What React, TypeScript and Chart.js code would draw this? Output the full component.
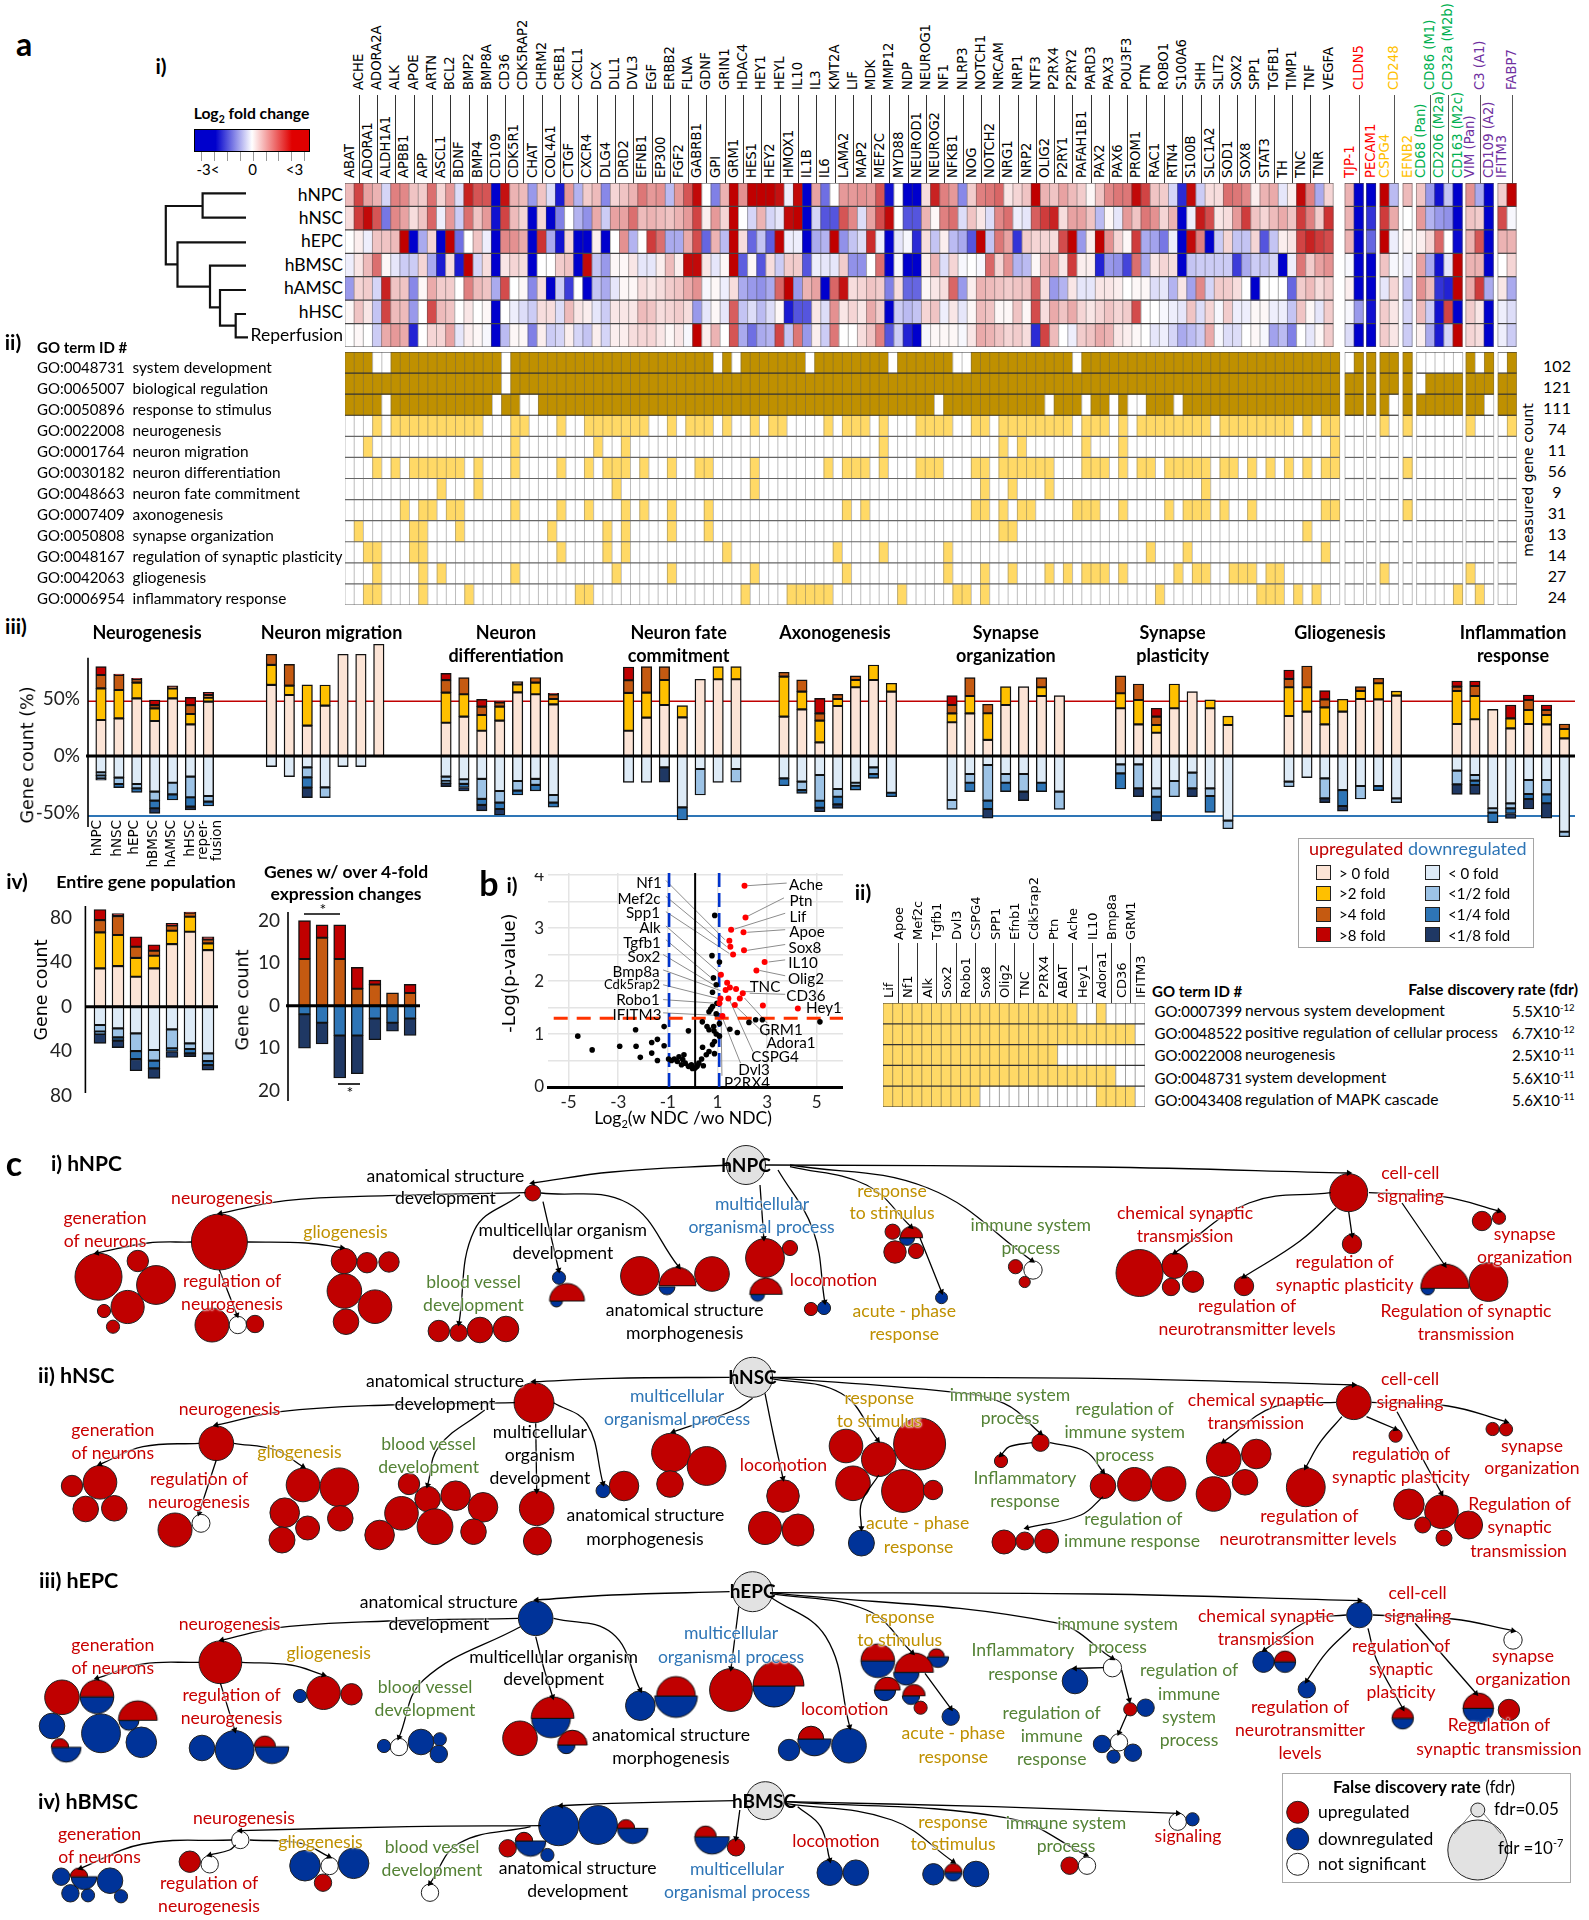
import React, { useEffect, useRef } from 'react';
import { Chart, registerables, BubbleController, LineController, ScatterController } from 'chart.js';
Chart.register(...registerables);
/* the scales of these charts are laid out exactly, so no room is reserved for overflowing marks */
BubbleController.prototype.getMaxOverflow = () => 0;
LineController.prototype.getMaxOverflow = () => 0;
ScatterController.prototype.getMaxOverflow = () => 0;

/* ---------- heat map ---------- */
const GENES_MAIN = ['ABAT','ACHE','ADORA1','ADORA2A','ALDH1A1','ALK','APBB1','APOE','APP','ARTN','ASCL1','BCL2','BDNF','BMP2','BMP4','BMP8A','CD109','CD36','CDK5R1','CDK5RAP2','CHAT','CHRM2','COL4A1','CREB1','CTGF','CXCL1','CXCR4','DCX','DLG4','DLL1','DRD2','DVL3','EFNB1','EGF','EP300','ERBB2','FGF2','FLNA','GABRB1','GDNF','GPI','GRIN1','GRM1','HDAC4','HES1','HEY1','HEY2','HEYL','HMOX1','IL10','IL1B','IL3','IL6','KMT2A','LAMA2','LIF','MAP2','MDK','MEF2C','MMP12','MYD88','NDP','NEUROD1','NEUROG1','NEUROG2','NF1','NFKB1','NLRP3','NOG','NOTCH1','NOTCH2','NRCAM','NRG1','NRP1','NRP2','NTF3','OLIG2','P2RX4','P2RY1','P2RY2','PAFAH1B1','PARD3','PAX2','PAX3','PAX6','POU3F3','PROM1','PTN','RAC1','ROBO1','RTN4','S100A6','S100B','SHH','SLC1A2','SLIT2','SOD1','SOX2','SOX8','SPP1','STAT3','TGFB1','TH','TIMP1','TNC','TNF','TNR','VEGFA'];
const GENES_EXTRA = [['TJP-1','r',0],['CLDN5','r',1],['PECAM1','r',0],['CSPG4','y',0],['CD248','y',1],['EFNB2','y',0],['CD68 (Pan)','g',0],['CD86 (M1)','g',1],['CD206 (M2a)','g',0],['CD32a (M2b)','g',1],['CD163 (M2c)','g',0],['VIM (Pan)','p',0],['C3 (A1)','p',1],['CD109 (A2)','p',0],['IFITM3','p',0],['FABP7','p',1]];
const CELL_TYPES = ['hNPC','hNSC','hEPC','hBMSC','hAMSC','hHSC','Reperfusion'];
const HEAT_hNPC = [.8,2.2,1.1,.9,-.5,1.5,1.4,.7,.6,1.7,.5,1.2,-.4,2.6,2,2,-3,2.8,.9,.8,-1.2,.7,-.4,-2.7,1.2,-.9,.6,.8,-1.4,.5,.7,.9,1.6,1.2,1.3,-.8,1.2,2,2.9,0,-1.5,.9,3,1.3,3,3,3,2.8,-.2,2.9,-3,1.1,-1.7,0,1.2,1.2,1.3,1.2,2,-2.8,0,-3,-3,.4,2.6,1.5,1.2,-1.4,.6,1.5,1.6,1.8,.3,.5,.7,3,.9,.7,1.1,.8,.6,.1,.7,1.4,1.6,1.6,2.9,2.2,.7,.6,-.5,-2.5,2.9,-.6,.4,.4,1.7,1.6,1.4,.2,.9,1,-.3,.2,2.9,1.5,-1,.5, .9,-3,-3,3,-.8,.8,.7,-1.2,-2.8,-.7,-3,1.3,-1,-3,.6,3];
const HEAT_hNSC = [.4,2.3,2.9,2,-1.6,1.4,1.1,.4,.7,1.8,-.2,1.2,-.6,1.7,.7,1.2,-2.8,2.2,.8,.5,-3,.5,-3,-1.5,0,-.9,-1.3,1,-.6,1.1,1.1,1.7,.8,.9,.8,.7,.9,1.2,2.2,.2,1.2,.5,3,0,-.5,.9,-.5,-.3,2.9,3,-3,-.5,-2,-2,2,1.4,-.4,1.1,2.1,2.9,0,-2,-2,.9,.1,1.5,1.7,-.4,.7,.3,-.4,1.4,1.7,-.2,-.3,1.9,2.3,2.6,.4,1.1,1.1,.7,-.8,.1,-.3,1.2,.7,1.6,1.3,.5,.9,-3,-.2,2.7,2.1,.3,.4,1.2,2.3,.7,.5,.8,1,.7,2.3,1.5,.6,2.4, .9,-3,-2.4,2.3,1,0,1.2,-.9,-1.2,-1.3,-3,.7,.6,-3,2.1,-.1];
const HEAT_hEPC = [0,.2,-.2,.7,.7,.8,3,-3,-1,.5,-3,3,-1.7,0,.7,-.2,-3,1.4,1.3,1,-3,2.4,-1,-2.8,.5,-3,-3,.2,-3,0,1.3,-.9,0,2.3,1.7,-1,-1,1,2.1,-1.8,.9,-.8,3,.4,-1.8,-.7,-1.9,3,-.2,-.2,-3,-1,-.9,3,-1.3,-.7,-.4,2.5,-.2,-3,-.3,-.1,-2.5,.4,-.7,.2,-.8,-1,-2,3,-.7,1.6,1.1,-2.4,.6,.5,.5,.4,2.1,3,-1.2,.2,3,1.3,.5,.1,2.3,-1,-1.1,-1.6,-.2,-3,2.9,1.5,-3,-.6,.5,-.7,-.7,.5,-2,-.7,.2,.3,2.2,2.6,2.3,2.1, .9,-3,-1.8,3,-.2,.1,.2,.5,1.8,0,-2.9,.9,2,-3,.9,.9];
const HEAT_hBMSC = [-.2,.3,.8,1.7,.1,-.3,-.6,-.6,.5,-1,-2.7,.4,-2.7,3,-.5,.4,-3,.3,.5,.4,-3,0,0,.6,.7,-3,2.9,-.7,-1.2,.1,.1,.3,-.3,-.3,.2,.8,.2,2.9,2.9,.3,-.3,.1,3,-1.9,.1,-2,.4,-.6,.6,.6,-2,-.2,-.3,-.3,.6,-1.3,-1.3,0,1.7,-3,-.1,-3,-3,.2,.9,-.4,.5,-.1,0,-.1,1.8,.5,1.3,-.9,-.8,.1,.8,1,.3,2.3,.2,.2,-2.6,-1.2,-1.3,-2.2,1.7,-1,.3,.5,.4,-3,-.7,-.6,-.6,-.6,-.6,-2.3,-1,-.6,-.7,-.5,-3,-.2,1.6,.6,1.1,1.3, -.1,-3,-3,.7,-.1,-.2,1.1,-1,-2.8,-.3,3,.9,.9,-3,0,.5];
const HEAT_hAMSC = [-1.2,.5,.6,-.5,2.6,.7,.7,-1.4,.1,1,.6,.6,0,1.5,.8,.7,-1,2.1,0,.1,-1.4,.4,-3,-.6,-2.3,0,-3,-.7,-1,-.3,.1,.1,.4,.3,.4,.6,.7,1,1.3,-.1,.1,-.2,.4,-1,-1.2,-1.3,-1,1.8,3,-1.2,.9,1.1,-3,1.8,2.8,.4,.5,.7,.6,-1.5,.4,-1.8,-1.8,.1,.3,.4,1.8,-1.2,.2,.9,.8,.7,.6,.7,.7,1.9,.4,-1.2,-.9,.3,-.3,-.3,.3,.3,.2,0,.1,.1,-.4,-.3,-.9,.3,-1.1,1.4,-.5,.6,.6,.4,0,-3,0,0,0,-1.8,.6,.8,.4,.6, .2,-3,-3,-.3,.5,-.7,1.3,.8,-2.4,-2.6,3,1,2.3,-1,.3,-1];
const HEAT_hHSC = [.1,.7,.3,-.7,2.2,.8,.8,-1.2,0,2.1,.8,.7,0,.3,0,.1,-3,0,-.2,-.4,-.6,.4,.4,-.4,.8,.3,.2,-.3,-.6,.3,.3,.3,.8,.7,.4,.5,.6,.4,-1.2,-.3,.1,-.3,1.9,-.7,-.4,-.8,-.4,.1,-2.7,-2,-2,.3,-.4,1.3,.3,.5,.3,1,.6,-3,-.6,-.8,-.7,.5,.7,-.2,.3,-.3,.1,.8,.7,.1,.1,.7,.1,2.1,.4,1,.7,1,.5,.3,.5,.7,.5,.6,2.1,0,0,-.1,-.2,-.3,.7,-.4,.5,-.1,.6,-.2,-.2,.1,.1,-.2,-.2,-.7,.7,.1,-.3,.6, -.1,-1.2,-2.8,.6,.3,-.5,.8,-.6,-2.8,2.2,-3,.6,.3,-3,-.2,-.4];
const HEAT_REPERFUSION = [0,.1,0,-.6,1,1.2,1,-2.6,0,.5,.5,1.1,-.3,.2,.1,-.1,-3,-.8,.1,.1,-1.5,.2,-.6,-.5,.2,-.5,-.7,.2,-.5,.2,.2,.4,.5,.5,.3,.1,.3,-.1,3,.2,.9,0,2,-1,-1.7,-1,-.9,2.2,-.7,1.6,-1.2,.2,-.6,1.6,0,0,.4,.7,1.5,-2,-.6,-2.6,-3,-.1,.1,.1,.1,-.1,.3,1,.9,.7,.5,.6,.4,-2.5,2.2,.8,0,-.2,.6,.7,1,.9,.3,.2,.1,0,-.3,-.2,-.5,-1,-.8,-.6,1,-.1,-.4,-.4,0,.1,-.1,-1.1,-.8,-1.5,0,-.3,.1,.6, -.4,-3,-3,.6,.3,-.6,.2,-1,-2.7,-.5,3,.5,.4,-3,-.2,-.6];
const HEAT_ROWS = [HEAT_hNPC,HEAT_hNSC,HEAT_hEPC,HEAT_hBMSC,HEAT_hAMSC,HEAT_hHSC,HEAT_REPERFUSION];

/* ---------- GO term table ---------- */
const GO_IDS = ['GO:0048731','GO:0065007','GO:0050896','GO:0022008','GO:0001764','GO:0030182','GO:0048663','GO:0007409','GO:0050808','GO:0048167','GO:0042063','GO:0006954'];
const GO_TERMS = ['system development','biological regulation','response to stimulus','neurogenesis','neuron migration','neuron differentiation','neuron fate commitment','axonogenesis','synapse organization','regulation of synaptic plasticity','gliogenesis','inflammatory response'];
const GO_COUNTS = [102,121,111,74,11,56,9,31,13,14,27,24];
const GO_ABSENT_SYSTEM = [3,4,17,40,42,50,59,66,67,79,108,114,115,116,117,118,120,122];
const GO_ABSENT_BIOREG = [17,114];
const GO_ABSENT_STIMULUS = [4,16,19,20,64,76,80,83,85,86,90,112,121];
const GO_NEUROGENESIS = [3,5,6,7,8,9,10,11,12,13,14,18,19,23,26,27,28,29,30,31,32,35,37,38,39,41,44,46,47,52,54,55,56,58,62,63,64,65,68,69,71,72,73,74,75,76,77,78,80,81,82,84,86,87,88,89,90,91,92,93,95,96,97,98,99,100,101,102,104,106,107,111,113,119,123];
const GO_MIGRATION = [2,18,27,30,58,71,73,80,84,107];
const GO_DIFFERENTIATION = [3,5,7,8,9,10,11,12,14,18,23,26,28,29,30,32,35,38,39,44,52,54,55,56,58,62,63,64,68,69,71,72,73,74,75,76,80,81,82,84,86,87,89,90,91,92,93,95,96,98,100,102,104,106,107,113];
const GO_FATE = [10,14,29,44,69,72,76,93];
const GO_AXONOGENESIS = [6,8,9,11,12,18,23,26,30,32,35,39,54,56,68,69,71,73,74,79,80,81,84,89,91,92,93,95,98,106,107,113];
const GO_SYNAPSE = [1,7,8,12,22,28,30,35,39,71,72,104];
const GO_PLASTICITY = [2,3,7,8,23,28,30,41,53,58,65,87,91,106];
const GO_GLIOGENESIS = [3,8,10,18,29,35,44,54,65,69,72,76,78,80,81,82,84,90,92,93,96,97,98,100,101,111,119];
const GO_INFLAMMATION = [2,3,8,13,25,26,43,48,49,50,51,52,60,66,67,69,88,99,100,101,103,105,118,120];

/* ---------- stacked gene counts: >0, >2, >4, >8, <0, <1/2, <1/4, <1/8 ---------- */
const BAR_NEUROGENESIS = [[31.4,27.6,11.6,7.3,14.2,2.9,2.3,1.7],[32.8,24.7,13.1,.9,18.9,5.5,3.2,0],[50.3,13.7,2.9,.9,24.4,3.8,3.5,0],[30.5,11,2.9,4.4,31.1,7.8,6.7,4.4],[50.3,8.7,1.5,.6,23.3,10.2,4.9,0],[27.6,9,7.8,6.7,18,18,8.1,2.9],[47.4,3.5,2.3,2.3,34.9,4.9,3.8,0]];
const BAR_MIGRATION = [[62,17.4,9.3,0,9.3,0,0,0],[53.2,8.1,18.6,0,18,0,0,0],[26.5,35.5,0,0,9.9,8.7,9,8.7],[43.9,18,0,0,27.3,9,0,0],[88.7,0,0,0,9.3,0,0,0],[88.7,0,0,0,9.3,0,0,0],[97.4,0,0,0,0,0,0,0]];
const BAR_DIFFERENTIATION = [[29,26.2,11,5.8,18,3.8,2,2.9],[34.3,19.5,14.5,0,20.3,4,3.2,3],[22,13.7,7.3,6.4,20,17.4,5.2,5.2],[30.8,12.2,3.8,1,30.5,10.2,5.5,5.2],[55.5,7,2.3,0,21.8,8.4,3.8,0],[53.8,10.2,4.4,0,20,5.2,5.2,0],[45,4.7,4,1,34,6.7,4,0]];
const BAR_FATE = [[22,33,11,11.6,23,0,0,0],[33.4,21.8,22.7,0,23,0,0,0],[44.5,21.8,11.6,0,9.9,0,0,13],[33.7,10.2,0,0,44.8,0,11,0],[66.9,0,0,0,11.3,22.7,0,0],[66.9,11,0,0,23,0,0,0],[66.9,11,0,0,11.3,11.6,0,0]];
const BAR_AXONOGENESIS = [[34.3,34.9,3.8,0,19.5,0,6.4,0],[40.7,15.4,10.2,0,22.4,7.3,2.9,0],[11.9,18.9,6.4,13,16.6,22.4,6.1,3.5],[43.6,6.1,4,0,28.8,6.7,6.7,3.5],[59.9,6.4,3.5,0,23.3,2.6,3.8,0],[66.3,13,0,0,9.9,5.8,3.8,0],[56.1,7.3,0,0,32,0,3.5,0]];
const BAR_SYNAPSE_ORG = [[29.4,7.8,7.3,8.1,38.4,8.1,0,0],[37.2,15.1,16,0,15.7,7.6,7.8,0],[14,23.3,7.8,0,7.8,31.1,7.3,8.1],[44.5,16,0,0,15.7,7.6,7.8,0],[60.5,0,0,0,15.7,15.4,0,7.8],[52.3,7.6,8.4,0,23.3,0,7.8,0],[52.6,0,0,0,31.1,15.4,0,0]];
const BAR_PLASTICITY = [[41.6,13.1,15.1,0,7.3,7.8,13.7,0],[27.6,21.2,14,0,7.3,20.9,0,7.3],[20.3,6.7,7.3,7.3,28.2,7.3,13.7,7.3],[41.6,21.2,0,0,21.8,13.7,0,0],[56.1,0,0,0,14.5,13.7,0,7.3],[41.6,7.3,0,0,28.2,6.7,14.2,0],[27,7.8,0,0,56.4,7,0,0]];
const BAR_GLIOGENESIS = [[34.9,25,7.3,7.8,22.4,4.4,0,0],[38.7,21.2,18.6,0,18.9,0,0,0],[27.6,14.8,7,7.6,19.5,17.4,0,3.8],[38.7,10.8,0,0,29.7,0,14,4.4],[49.7,7,3.8,0,26.2,11.3,0,0],[49.4,14,4.4,0,26.2,0,4,0],[52.6,4,0,0,36.9,3.8,0,0]];
const BAR_INFLAMMATION = [[27.9,28.8,3.8,4.9,12.8,11.9,0,8.7],[32,20.3,8.7,4.4,16.6,4.9,3.8,8.1],[40.7,0,0,0,45.6,3.8,8.7,0],[24.1,8.7,0,11.6,41.3,4.4,4.4,4.4],[27.9,12.2,8.7,4.4,20.9,12.2,4.4,8.7],[27.6,8.1,4.4,4.4,20.9,12.5,7.8,13],[15.4,8.1,4.4,0,66,4.4,0,0]];
const ENTIRE_POPULATION = [[34.5,32.4,11.1,9.6,16.5,6,2.1,8.4],[36.6,28,17,2.4,19.5,8.1,3,6.3],[27,17,10,9,24,16,7.2,10.5],[34.5,11.4,4.5,5.4,39,9.6,6.9,9],[56.4,12,4.8,1.8,20.4,17,3,5.4],[67.5,13.5,3.6,.6,33,5.1,3.9,3],[51,6,3.6,2.4,42,7,3.6,4.5]];
const OVER_4_FOLD = [[0,0,11,9,0,0,2,8],[0,0,16,3,0,0,4,5],[0,0,11,8,0,0,7,10],[0,0,4,5,0,0,7,9],[0,0,5,1,0,0,3,5],[0,0,3,0,0,0,4,2],[0,0,3,2,0,0,3,4]];
const PANEL_GROUPS = [BAR_NEUROGENESIS,BAR_MIGRATION,BAR_DIFFERENTIATION,BAR_FATE,BAR_AXONOGENESIS,BAR_SYNAPSE_ORG,BAR_PLASTICITY,BAR_GLIOGENESIS,BAR_INFLAMMATION];
const SERIES_NAMES = ['> 0 fold','>2 fold','>4 fold','>8 fold','< 0 fold','<1/2 fold','<1/4 fold','<1/8 fold'];
const SERIES_COLORS = ['#FCE4D6','#FFC000','#C55A11','#C00000','#DEEBF7','#9DC3E6','#2E75B6','#1F3864'];

/* ---------- volcano ---------- */
const VOLCANO_SIG = [[2.09,3.8],[2.13,3.2],[1.55,2.97],[2.05,2.92],[1.48,2.76],[1.52,2.65],[1.63,2.5],[2.07,2.58],[2.9,2.36],[2.57,2.2],[1.14,2.12],[1.39,1.97],[1.5,1.88],[1.33,1.83],[1.75,1.85],[2.02,1.77],[1.12,1.67],[1.44,1.67],[1.9,1.67],[1.08,1.58],[1.7,1.55],[2.83,1.54],[4.24,1.48],[1.2,1.34]];
const VOLCANO_REST = [[.89,3.24],[.78,2.48],[1.08,2.36],[.84,2.06],[.95,1.93],[.8,1.79],[.98,1.58],[.8,1.52],[.73,1.47],[.66,1.42],[.95,1.38],[2.54,1.27],[2.81,1.27],[2.27,1.22],[5.13,1.23],[.39,1.23],[1.08,1.2],[.85,1.14],[.58,1.14],[.66,1.08],[.86,1.06],[-1.15,1.14],[-2.3,1.08],[-.17,1.06],[1.5,1.09],[1.8,1.03],[.95,1],[1.08,.96],[.88,.86],[.8,.8],[-4.63,.96],[-4.05,.7],[-2.94,.77],[-2.28,.77],[-1.65,.84],[-1.42,.9],[-1.15,.78],[-1.65,.64],[-2.11,.56],[-1.42,.5],[-.97,.53],[-.85,.5],[-.74,.53],[-.55,.57],[-.62,.48],[-.4,.52],[-.3,.45],[-.17,.39],[-.01,.35],[.1,.36],[.18,.39],[.25,.45],[.36,.53],[.4,.75],[.55,.61],[.66,.67],[.88,.63],[.43,.4],[-.05,.42],[-.35,.61],[-.45,.42]];
const VOLCANO_LEADERS = [[3.79,3.85,2.2,3.8],[3.68,3.57,2.2,3.22],[3.73,3.28,1.68,2.98],[3.73,2.97,2.2,2.92],[3.73,2.69,2.2,2.58],[3.73,2.4,3.06,2.36],[3.73,2.1,2.7,2.2],[2.43,1.8,2.03,1.8],[3.73,1.75,2.3,1.77],[3,1.21,2.09,1.68],[3,.96,1.68,1.55],[2.43,.67,1.48,1.65],[1.93,.45,1.18,1.33],[1.18,.21,1.14,1.58],[-1.08,3.9,1.3,2.78],[-1.08,3.6,1.37,2.65],[-1.08,3.31,1.48,2.52],[-1.08,3.04,1.14,2.13],[-1.08,2.78,.73,2.07],[-1.19,2.5,.84,1.93],[-1.19,2.21,1.12,1.82],[-1.19,1.93,1.03,1.67],[-1.19,1.65,.96,1.58],[-1.19,1.4,1.07,1.35]];
const VOLCANO_LABELS = [['Ache',806,884],['Ptn',801,900],['Lif',798,916],['Apoe',807,931],['Sox8',805,947],['IL10',803,962],['Olig2',806,978],['TNC',765,986],['CD36',806,995],['Hey1',824,1007],['GRM1',781,1029],['Adora1',791,1042],['CSPG4',775,1056],['Dvl3',754,1069],['P2RX4',747,1082],['Nf1',649,882],['Mef2c',639,898],['Spp1',643,912],['Alk',650,927],['Tgfb1',642,942],['Sox2',644,956],['Bmp8a',636,971],['Cdk5rap2',632,984],['Robo1',638,999],['IFITM3',637,1014]];

/* ---------- b ii table ---------- */
const GENES_B = ['Lif','Apoe','Nf1','Mef2c','Alk','Tgfb1','Sox2','Dvl3','Robo1','CSPG4','Sox8','SPP1','Olig2','Efnb1','TNC','Cdk5rap2','P2RX4','Ptn','ABAT','Ache','Hey1','IL10','Adora1','Bmp8a','CD36','GRM1','IFITM3'];
const B_NERVOUS = [0,1,2,3,4,5,6,7,8,9,10,11,12,13,14,15,16,17,18,19,22];
const B_POSITIVE = [0,1,2,3,4,5,6,7,8,9,10,11,12,13,14,15,16,17,18,19,20,21,22,23,24,25];
const B_NEUROGENESIS = [0,1,2,3,4,5,6,7,8,9,10,11,12,13,14,15,16,17];
const B_SYSTEM = [0,1,2,3,4,5,6,7,8,9,10,11,12,13,14,15,16,17,18,19,20,21,22,23];
const B_MAPK = [0,1,2,3,4,5,6,7,8,9,22,23,24,25];
const B_ROWS = [['GO:0007399','nervous system development','5.5X10','-12'],['GO:0048522','positive regulation of cellular process','6.7X10','-12'],['GO:0022008','neurogenesis','2.5X10','-11'],['GO:0048731','system development','5.6X10','-11'],['GO:0043408','regulation of MAPK cascade','5.6X10','-11']];

/* ---------- dendrogram ---------- */
const DENDRO = [[[246,193.3],[202.6,193.3],[202.6,217.7],[246,217.7]],[[202.6,206],[165.8,206],[165.8,264.3],[177.5,264.3]],[[246,242.3],[177.5,242.3],[177.5,286.7],[210,286.7]],[[246,265.7],[210,265.7],[210,307.3],[220,307.3]],[[246,290],[220,290],[220,325.7],[235.7,325.7]],[[246,314],[235.7,314],[235.7,337.3],[248,337.3]]];

/* ---------- enrichment networks: x, y, radius, kind ---------- */
const NODES_HNPC = [[746,1165,19.5,'g'],[532.7,1193,8,'u'],[219.4,1242,28,'u'],[98.5,1276.7,23.5,'u'],[137.8,1261,10.7,'u'],[156,1285,19.4,'u'],[127.6,1307,16.6,'u'],[104,1311,6.6,'u'],[113,1326.7,6.6,'u'],[212,1325,17,'u'],[237.8,1325,8.7,'n'],[255,1324,8.7,'u'],[344,1261,12.8,'u'],[367,1262.7,10.2,'u'],[389,1262,10.2,'u'],[344.4,1291,17.3,'u'],[375,1306.7,16.8,'u'],[346,1321.7,12.8,'u'],[438.8,1331,10.7,'u'],[458.7,1332.7,8.7,'u'],[480,1330,12.8,'u'],[506,1329,12.8,'u'],[559,1277.7,6.6,'d'],[556.5,1301,6,'l'],[567,1301,17.5,'t'],[640,1276,19.4,'u'],[667,1286.7,8,'l'],[677.5,1285.7,18.4,'t'],[712,1274,17.3,'u'],[765,1258,19.4,'u'],[790,1248,7.6,'u'],[757.6,1294.3,7,'l'],[766,1294.3,16.3,'t'],[811,1309,6.6,'u'],[824,1308,6.6,'d'],[892.6,1231.7,7.6,'u'],[907,1237.7,7.6,'l'],[911.4,1237.7,11.2,'t'],[895,1252,11.2,'u'],[916,1251,7.6,'u'],[941.5,1297.7,6,'d'],[1015.5,1266.7,7.1,'u'],[1033,1270,9.2,'n'],[1024.7,1282,5.6,'u'],[1348.7,1192.7,19,'u'],[1139.5,1273,23.5,'u'],[1174.7,1265.7,12.8,'u'],[1193,1281.7,10.7,'u'],[1171,1287,8.7,'u'],[1244,1286,9.7,'u'],[1352,1244,9.7,'u'],[1482,1221,9.7,'u'],[1499,1217.7,6.6,'u'],[1427.8,1288.3,6.6,'l'],[1445,1288.3,24.2,'t'],[1488.5,1282,19.4,'u']];
const NODES_HNSC = [[752.6,1377.3,20,'g'],[534,1402.7,20,'u'],[216.3,1443.3,17.3,'u'],[72,1486,10.7,'u'],[100,1482.3,16.8,'u'],[85.7,1509,12.8,'u'],[114.3,1508.3,12.8,'u'],[175,1530,17,'u'],[201,1523.3,9,'n'],[303,1485,16.8,'u'],[339.3,1487.3,19.4,'u'],[284.7,1512.7,14.8,'u'],[340.3,1518.3,12.8,'u'],[307.6,1528,12,'u'],[282,1540,13,'u'],[409,1484,10.7,'u'],[427.6,1499,12.8,'u'],[455.6,1495.7,14.8,'u'],[483,1507.3,14.8,'u'],[401.5,1513.3,16.8,'u'],[435,1526.7,17.9,'u'],[473.5,1531.7,12.8,'u'],[379.6,1535,14.8,'u'],[536.7,1508.3,17.3,'u'],[537.4,1541,14,'u'],[603,1490.7,7,'d'],[624,1486,14.8,'u'],[671,1452.7,19.4,'u'],[706.6,1466,19.4,'u'],[670,1484,13.3,'u'],[783,1496,16.3,'u'],[765,1528,16.5,'u'],[798,1530,16,'u'],[846,1446,16.8,'u'],[878.8,1459.3,17.3,'u'],[919.6,1444,26,'u'],[853,1483.3,17.3,'u'],[903,1491,21.4,'u'],[933,1490,9.7,'u'],[861.4,1543,13,'d'],[1040.5,1442.7,8.7,'u'],[1001,1461,6.6,'u'],[1103,1486,12.8,'u'],[1134.4,1484.3,16.8,'u'],[1168.6,1484,17.3,'u'],[1004,1542,12,'u'],[1024.7,1541,9,'u'],[1046.6,1541,12,'u'],[1223.7,1459.3,17.3,'u'],[1256.3,1454,14.8,'u'],[1245,1482.3,12.8,'u'],[1213.5,1494,17.3,'u'],[1353.8,1402.3,17.3,'u'],[1305.8,1487.3,19.4,'u'],[1395.6,1435.7,6.6,'u'],[1492.6,1429,6.6,'u'],[1506,1429.3,6.6,'u'],[1408.9,1504.3,15.3,'u'],[1441.5,1511.7,16.8,'u'],[1468.6,1525,14,'u'],[1422.7,1525,8,'u'],[1444,1538,8,'u']];
const NODES_HEPC = [[752.6,1591.7,20,'g'],[535.7,1618.3,17.3,'d'],[220.4,1662.3,21.4,'u'],[62,1697.3,17.3,'u'],[97,1696.7,16.8,'l'],[97,1696.7,16.8,'t'],[129,1720.3,10,'l'],[137.8,1720.3,19.4,'t'],[52,1726,12.8,'d'],[101,1733.3,19.4,'d'],[141.3,1742.3,15.3,'d'],[66.3,1747.3,14.8,'l'],[60,1747.3,8.7,'t'],[202,1748,12.8,'d'],[234.7,1750,19.4,'d'],[272,1746.7,16.8,'l'],[264.8,1746.7,10.7,'t'],[300,1696,6.6,'d'],[323.5,1692.7,16.8,'u'],[351.5,1694.3,10.7,'u'],[384,1746,6.6,'d'],[399,1747,8.7,'n'],[421,1742,12.8,'d'],[439.8,1739.3,6.6,'d'],[438.8,1754,8.7,'d'],[551,1718.3,19.4,'l'],[552.6,1718.3,21.4,'t'],[520,1738.3,17.3,'u'],[566.3,1745,8.7,'l'],[572.4,1745,14.8,'t'],[640.3,1705.7,14.8,'d'],[676,1696,21.4,'l'],[676,1696,19.4,'t'],[731,1690,21.4,'u'],[774,1686,21,'l'],[778.5,1686,25.5,'t'],[789,1750,10.7,'d'],[814.5,1739,16.8,'l'],[811,1739,12.8,'t'],[849,1745.7,17.3,'d'],[877.8,1660.7,16.8,'l'],[877.8,1660.7,16.8,'t'],[906.3,1672.3,12.8,'l'],[914,1672.3,19.4,'t'],[938,1656.7,10.7,'l'],[936.4,1656.7,8,'t'],[885,1690,10.7,'l'],[887.4,1690,12.8,'t'],[911,1695.7,8.7,'l'],[914,1695.7,11.2,'t'],[920.6,1707.7,6.6,'u'],[950.7,1716.7,8.7,'d'],[1112.4,1667.7,9.2,'n'],[1075,1681,12.8,'d'],[1130.3,1709.3,6.6,'u'],[1145.6,1707.7,8.7,'d'],[1119,1742.3,8.7,'n'],[1102,1744,8.7,'d'],[1113.5,1756.7,6.6,'d'],[1132.9,1752.7,8.7,'d'],[1359.4,1615,12.8,'d'],[1263.5,1661.7,10.7,'d'],[1285,1661.7,10.7,'l'],[1285,1661.7,10.7,'t'],[1306.8,1689.3,8.7,'d'],[1402.7,1718.3,10.7,'l'],[1402.7,1718.3,10.7,'t'],[1513,1640,9.2,'n'],[1478.3,1708.3,15.3,'l'],[1478.3,1708.3,15.3,'t'],[1508.9,1710,10.7,'u']];
const NODES_HBMSC = [[765.3,1800.7,19,'g'],[558.7,1825.7,20,'d'],[598,1825,19.4,'d'],[632.7,1828.3,15.3,'l'],[626,1828.3,8.7,'t'],[507.7,1848.3,8.7,'u'],[530.6,1841,15.3,'l'],[524,1841,8.7,'t'],[547.4,1855,6.6,'d'],[240.3,1840,8.7,'n'],[61.2,1876.7,8.7,'d'],[84,1876.7,12.8,'l'],[79,1876.7,8.7,'t'],[110,1880.7,12.8,'d'],[70.4,1893.3,8.7,'d'],[88,1895.3,6.6,'d'],[121,1896.3,6.6,'d'],[189.8,1861.7,10.7,'u'],[209.7,1864.3,8.7,'n'],[305,1865.7,15.3,'d'],[329.6,1866,8.7,'n'],[353.6,1863.3,15.3,'d'],[323,1882.7,8.7,'u'],[430,1892.7,8.7,'n'],[712,1836.7,17.3,'l'],[705.6,1836.7,10.7,'t'],[736,1847.3,8.7,'u'],[829.8,1872.7,12.8,'d'],[855.8,1872.7,12.8,'d'],[933.4,1874.3,10.7,'d'],[953.3,1872.3,8.7,'l'],[953.3,1872.3,8.7,'t'],[976,1874,12.8,'d'],[1069.6,1865.7,8.7,'u'],[1087,1865.7,8.7,'n'],[1177.8,1821.7,8.7,'n'],[1192.5,1819.3,6.6,'d']];
const NODES_LEGEND = [[1297.7,1812.3,11,'u'],[1297.7,1839,11,'d'],[1297.7,1864.3,11,'n'],[1477.8,1850,30,'g'],[1477.8,1810,7,'g']];

const EDGES_HNPC = [[[729.6,1165],[612,1172],[532.7,1183]],[[525.5,1192.7],[388,1195.7],[285.7,1200.7],[220.4,1213.3]],[[191.8,1242],[148,1243],[97,1253]],[[247.4,1242],[306,1243],[342,1247.7]],[[219.4,1270],[237,1315]],[[520,1195],[474.5,1230],[459,1323]],[[543,1201.7],[558.7,1270]],[[541,1193],[627.6,1203],[678.6,1266.7]],[[760,1185],[763.8,1238]],[[778,1170],[813,1230],[824.7,1301.7]],[[790,1166.7],[866.5,1185],[911,1226.7]],[[790,1165],[927.8,1188],[1032,1260.7]],[[765,1165],[1096,1167],[1348.7,1173]],[[1330.8,1192.7],[1249,1203],[1175,1252.7]],[[1336,1208],[1300,1241],[1244,1276.7]],[[1348.7,1211.7],[1352,1235]],[[1369,1192.7],[1443,1196.7],[1499,1211]],[[1402,1203],[1444.6,1265]],[[920,1238],[941.5,1291.7]]];
const EDGES_HNSC = [[[729.6,1377.3],[612,1378.3],[534,1381.7]],[[515,1402.7],[388,1405],[280.6,1411.7],[216.3,1425]],[[199,1443.3],[142.9,1446.7],[100,1464.3]],[[233.7,1443.3],[275.5,1450],[303,1466.7]],[[216.3,1460],[199,1513]],[[484.7,1410],[438.8,1446.7],[427.6,1485]],[[535.7,1423.3],[536.7,1490.7]],[[553.6,1402.7],[586.7,1423.3],[603,1483.3]],[[752.6,1398.3],[734.7,1410],[673.5,1431.7]],[[765,1393.3],[773,1433],[783,1478.3]],[[770,1378.3],[841,1393.3],[877.8,1440]],[[770,1377.3],[948,1391.7],[1004,1403.3],[1040.5,1433.3]],[[770,1377.3],[1096,1378.3],[1353.8,1385]],[[1032,1442.7],[1009.4,1446.7],[1001,1455]],[[1050,1442.7],[1086,1451.7],[1103,1471.7]],[[1103,1496.7],[1081,1515],[1027,1528]],[[878.8,1475],[861.4,1503],[861.4,1528]],[[1336,1402.3],[1274.7,1406.7],[1223.7,1441.7]],[[1342,1416.7],[1320.6,1441.7],[1305.8,1467.3]],[[1366.5,1416.7],[1395.6,1429]],[[1371.6,1402.3],[1448,1406],[1506,1421.7]],[[1397,1411.7],[1441.5,1493.3]]];
const EDGES_HEPC = [[[729.6,1591.7],[612,1595],[536.7,1600]],[[518,1618.3],[388,1621],[280.6,1627.3],[222,1640]],[[199,1662.3],[142.9,1664],[97,1678.3]],[[241.8,1662.3],[290.8,1665],[323.5,1675]],[[220.4,1683.3],[234.7,1730]],[[520.4,1626.7],[423.5,1680],[399,1737.3]],[[535.7,1636.7],[543.4,1666.7],[552.6,1696.7]],[[553.6,1618.3],[612.2,1633.3],[640.3,1690]],[[738.8,1606.7],[731,1668.3]],[[770,1596.7],[825.7,1636.7],[849.7,1726.7]],[[770,1593.3],[866.5,1610],[912.4,1652.7]],[[770,1592.7],[1055,1622.7],[1112.4,1658.3]],[[770,1592.7],[1096,1594],[1359.4,1600.7]],[[1103.8,1667.7],[1075,1668.3]],[[1121.6,1670],[1129.3,1700]],[[1126.7,1715],[1119,1732.7]],[[925,1673.3],[950.7,1708.3]],[[1346,1615],[1310,1620],[1264.5,1650]],[[1351,1628.3],[1325.7,1653.3],[1306.8,1680.7]],[[1368,1628.3],[1376.7,1660],[1402.7,1708.3]],[[1373,1615],[1453,1619],[1513,1630.7]],[[1415,1623.3],[1476,1693.3]]];
const EDGES_HBMSC = [[[734.7,1800.7],[612,1803.3],[561,1805.7]],[[540.8,1825.7],[408,1826.7],[240.3,1830.7]],[[232,1840],[142.9,1844],[80.6,1868.3]],[[235.7,1845],[229.6,1850],[209.7,1855]],[[250,1840],[301,1843.3],[329,1856.7]],[[530.6,1826.7],[459,1843.3],[430,1883.3]],[[739.8,1810],[736,1838.3]],[[797.7,1806.7],[820.6,1826.7],[829.8,1860]],[[785,1803.3],[892,1820],[953.3,1861.7]],[[785,1801.7],[1009.4,1818.3],[1086,1855]],[[785,1801.7],[994,1806.7],[1177.8,1813.3]]];

const K='#000', R='#C80000', Y='#BF9000', G='#548235', B='#2E75B6';
const LABELS_HNPC = [['anatomical structure',445.4,1175.7,K],['development',445.4,1198.3,K],['neurogenesis',222,1197.7,R],['generation',105,1218,R],['of neurons',105,1241,R],['gliogenesis',345.4,1231.7,Y],['regulation of',232,1280.7,R],['neurogenesis',232,1303.7,R],['multicellular organism',562.8,1230,K],['development',562.8,1253,K],['blood vessel',473.5,1282.3,G],['development',473.5,1305.3,G],['anatomical structure',684.7,1310,K],['morphogenesis',684.7,1332.7,K],['multicellular',762,1203.6,B],['organismal process',761.5,1226.7,B],['locomotion',833.4,1279.7,R],['response',892,1190.7,Y],['to stimulus',892,1213.3,Y],['acute - phase',904.3,1311,Y],['response',904.3,1334,Y],['immune system',1030.8,1224.7,G],['process',1030.8,1247.7,G],['chemical synaptic',1185,1212.7,R],['transmission',1185,1235.7,R],['cell-cell',1410.4,1173.3,R],['signaling',1410.4,1196.3,R],['synapse',1524.7,1234,R],['organization',1524.7,1256.7,R],['regulation of',1344.6,1262,R],['synaptic plasticity',1344.6,1285.3,R],['regulation of',1247,1305.7,R],['neurotransmitter levels',1247,1328.7,R],['Regulation of synaptic',1466,1310.7,R],['transmission',1466,1333.7,R]];
const LABELS_HNSC = [['anatomical structure',445,1381.3,K],['development',445,1404,K],['neurogenesis',229.6,1409.3,R],['generation',112.8,1430.3,R],['of neurons',112.8,1453,R],['gliogenesis',299.5,1451.7,Y],['blood vessel',428.6,1443.7,G],['development',428.6,1466.7,G],['regulation of',199,1479.3,R],['neurogenesis',199,1502.3,R],['multicellular',539.8,1432.3,K],['organism',539.8,1455.3,K],['development',539.8,1478,K],['anatomical structure',645.4,1515,K],['morphogenesis',645,1539,K],['multicellular',677,1395.7,B],['organismal process',677,1418.7,B],['locomotion',783.5,1465.4,R],['response',879.3,1398,Y],['to stimulus',879.3,1420.7,Y],['immune system',1010,1395,G],['process',1010,1418,G],['regulation of',1124.7,1409.3,G],['immune system',1124.7,1432.3,G],['process',1124.7,1455.3,G],['Inflammatory',1025,1477.7,G],['response',1025,1500.7,G],['regulation of',1133.4,1519.3,G],['immune response',1132,1541,G],['acute - phase',917.6,1522.7,Y],['response',918.6,1546.7,Y],['chemical synaptic',1255.8,1400.3,R],['transmission',1255.8,1423.3,R],['cell-cell',1410,1379.3,R],['signaling',1410,1402.3,R],['regulation of',1401,1454,R],['synaptic plasticity',1401,1477.3,R],['synapse',1532,1445.7,R],['organization',1532,1468.3,R],['regulation of',1309.4,1516,R],['neurotransmitter levels',1308,1539,R],['Regulation of',1519.6,1504.3,R],['synaptic',1519.6,1526.7,R],['transmission',1518.6,1550.7,R]];
const LABELS_HEPC = [['anatomical structure',438.8,1601.7,K],['development',438.8,1624.3,K],['neurogenesis',229.6,1624,R],['generation',112.8,1645.3,R],['of neurons',112.8,1667.7,R],['gliogenesis',328.6,1653.3,Y],['regulation of',231.6,1694.7,R],['neurogenesis',231.6,1717.7,R],['blood vessel',425,1686.7,G],['development',425,1709.7,G],['multicellular organism',553.6,1656.7,K],['development',553.6,1679.3,K],['anatomical structure',671,1734.7,K],['morphogenesis',671,1757.7,K],['multicellular',731,1633.3,B],['organismal process',731,1656.7,B],['locomotion',844.6,1709.3,R],['response',899.7,1617.3,Y],['to stimulus',899.7,1639.7,Y],['acute - phase',953.3,1733.3,Y],['response',953.3,1756.7,Y],['immune system',1117.6,1624,G],['process',1117.6,1647.3,G],['Inflammatory',1023,1650.3,G],['response',1023,1673.7,G],['regulation of',1189,1670.3,G],['immune',1189,1693.7,G],['system',1189,1716.7,G],['process',1189,1740,G],['regulation of',1051.7,1713.3,G],['immune',1051.7,1736.3,G],['response',1051.7,1759.3,G],['chemical synaptic',1266,1615.7,R],['transmission',1266,1638.7,R],['cell-cell',1417.6,1593.3,R],['signaling',1417.6,1616.3,R],['regulation of',1401,1646.3,R],['synaptic',1401,1669.3,R],['plasticity',1401,1692.3,R],['synapse',1523,1655.7,R],['organization',1523,1678.7,R],['regulation of',1300,1706.7,R],['neurotransmitter',1300,1730,R],['levels',1300,1752.7,R],['Regulation of',1499,1725.3,R],['synaptic transmission',1499,1748.7,R]];
const LABELS_HBMSC = [['neurogenesis',243.9,1818,R],['generation',99.5,1834,R],['of neurons',99.5,1857,R],['gliogenesis',320.4,1842,Y],['blood vessel',432,1847,G],['development',432,1870,G],['regulation of',209,1882.7,R],['neurogenesis',209,1905.7,R],['anatomical structure',577.6,1868.3,K],['development',577.6,1891.3,K],['multicellular',737,1869.3,B],['organismal process',737,1892.3,B],['locomotion',836,1841.3,R],['response',953,1821.7,Y],['to stimulus',953,1844,Y],['immune system',1066,1822.7,G],['process',1066,1845.7,G],['signaling',1188,1836.3,R]];
const PANEL_TITLES = [[['Neurogenesis'],147],[['Neuron migration'],331.6],[['Neuron','differentiation'],506],[['Neuron fate','commitment'],678.6],[['Axonogenesis'],835],[['Synapse','organization'],1005.8],[['Synapse','plasticity'],1172.6],[['Gliogenesis'],1340],[['Inflammation','response'],1513]];

/* ---------- layout constants ---------- */
const HEAT_GROUP_STARTS = [[109.29,2],[111.64,1],[113.12,2],[115.63,1],[117.1,5],[122.5,3],[126,2]];
const GO_GROUP_STARTS = [[108.58,2],[110.92,1],[112.38,2],[114.88,1],[116.35,5],[121.72,3],[125.2,2]];
const GROUP_STARTS_III = [101,271.4,446,628.6,784,952,1120.6,1289,1457];
const EXTRA_COLORS = { r:'#FF0000', y:'#FFC000', g:'#00B050', p:'#7030A0' };
const NUNITO = 'Lato, sans-serif';
const SANS = '"DejaVu Sans", sans-serif';

function heatColor(v) {
  const t = Math.min(1, Math.abs(v) / 3);
  if (v >= 0) return `rgb(${Math.round(255 - 63 * t)},${Math.round(255 - 255 * t)},${Math.round(255 - 255 * t)})`;
  return `rgb(${Math.round(255 - 255 * t)},${Math.round(255 - 255 * t)},${Math.round(255 - 50 * t)})`;
}

const base = () => ({
  responsive: false, animation: false, maintainAspectRatio: false, events: [],
  layout: { padding: 0 },
  plugins: { legend: { display: false }, tooltip: { enabled: false } },
});

function colPositions(mainCount, groups) {
  const xs = [];
  for (let i = 0; i < mainCount; i++) xs.push(i);
  groups.forEach(([s, n]) => { for (let j = 0; j < n; j++) xs.push(s + j); });
  return xs;
}

function matrixConfig(rows, cellW, width, xs, groups, rowLine, colLine) {
  const nRows = rows.length;
  const datasets = rows.map((row) => ({
    data: xs.map((x) => ({ x: x + 0.5, y: 1 })),
    backgroundColor: xs.map((_, i) => row[i]),
    borderWidth: 0, barThickness: cellW, stack: 'm',
  }));
  const gridPlugin = {
    id: 'cellgrid',
    afterDatasetsDraw(chart) {
      const { ctx, scales: { x, y } } = chart;
      ctx.save();
      groups.forEach(([s, n]) => {
        const x0 = x.getPixelForValue(s), x1 = x.getPixelForValue(s + n);
        for (let c = 0; c <= n; c++) {
          const px = x.getPixelForValue(s + c);
          ctx.strokeStyle = colLine; ctx.lineWidth = 1;
          ctx.beginPath(); ctx.moveTo(px, y.getPixelForValue(0)); ctx.lineTo(px, y.getPixelForValue(nRows)); ctx.stroke();
        }
        for (let r = 0; r <= nRows; r++) {
          const py = y.getPixelForValue(r);
          ctx.strokeStyle = rowLine(r); ctx.lineWidth = 1.2;
          ctx.beginPath(); ctx.moveTo(x0, py); ctx.lineTo(x1, py); ctx.stroke();
        }
      });
      ctx.restore();
    },
  };
  return {
    type: 'bar',
    data: { datasets },
    plugins: [gridPlugin],
    options: {
      ...base(),
      scales: {
        x: { type: 'linear', display: false, min: 0, max: width / cellW, stacked: true, offset: false },
        y: { type: 'linear', display: false, min: 0, max: nRows, reverse: true, stacked: true },
      },
    },
  };
}

let lineStack = 0;
function lineDs(points, color, width, order, dash) {
  return { type: 'line', stack: 'line' + (lineStack++), data: points.map(([x, y]) => ({ x, y })), borderColor: color, borderWidth: width, pointRadius: 0, order, borderDash: dash || [], tension: 0, fill: false };
}

function stackConfig({ width, height, W, yMin, yMax, bars, thick, ticks, fontSize, lines, absLabels, suffix }) {
  const datasets = SERIES_COLORS.map((c, s) => ({
    label: SERIES_NAMES[s],
    data: bars.map((b) => ({ x: b.x, y: b.v[s] ? (s < 4 ? b.v[s] : -b.v[s]) : null })),
    backgroundColor: c, borderColor: '#111', borderWidth: 1.4, borderSkipped: false,
    barThickness: thick, stack: 's', order: 1,
  }));
  return {
    type: 'bar',
    data: { datasets: [...datasets, ...lines] },
    options: {
      ...base(),
      scales: {
        x: { type: 'linear', display: false, min: W, max: width, stacked: true, offset: false },
        y: {
          type: 'linear', min: yMin, max: yMax, stacked: true,
          grid: { display: false, drawTicks: false }, border: { display: false },
          afterBuildTicks: (s) => { s.ticks = ticks.map((value) => ({ value })); },
          afterFit: (s) => { s.width = W; s.paddingTop = 0; s.paddingBottom = 0; },
          ticks: { padding: 4, color: '#222', font: { family: NUNITO, size: fontSize }, autoSkip: false,
            callback: (v) => (absLabels ? Math.abs(v) : v) + (suffix || '') },
        },
      },
    },
  };
}

function panelIiiConfig() {
  const bars = [];
  PANEL_GROUPS.forEach((g, gi) => g.forEach((v, i) => bars.push({ x: GROUP_STARTS_III[gi] + i * 17.9, v })));
  const toY = (px) => (756 - px) / 1.147;
  return stackConfig({
    width: 1589, height: 240, W: 84, yMin: toY(880), yMax: toY(640), bars, thick: 10.5,
    ticks: [50, 0, -50], fontSize: 19, suffix: '%',
    lines: [
      lineDs([[88, 47.7], [1575, 47.7]], '#C00000', 1.6, 5),
      lineDs([[88, -52.3], [1575, -52.3]], '#2E75B6', 2, 5),
      lineDs([[86, 0], [1575, 0]], '#000', 3, -1),
      lineDs([[88, 85.7], [88, -62]], '#000', 1.6, -1),
    ],
  });
}

function entireConfig() {
  const toY = (px) => (1006.7 - px) / 1.11;
  return stackConfig({
    width: 240, height: 210, W: 76, yMin: toY(1110), yMax: toY(900), thick: 12,
    bars: ENTIRE_POPULATION.map((v, i) => ({ x: 100 + i * 18, v })),
    ticks: [80, 40, 0, -40, -80], fontSize: 19, absLabels: true,
    lines: [lineDs([[85, 0], [218, 0]], '#000', 3, -1), lineDs([[85.4, toY(906)], [85.4, toY(1093)]], '#000', 1.6, -1)],
  });
}

function over4Config() {
  const toY = (px) => (1005.7 - px) / 4.25;
  return stackConfig({
    width: 230, height: 210, W: 84, yMin: toY(1110), yMax: toY(900), thick: 12,
    bars: OVER_4_FOLD.map((v, i) => ({ x: 104.5 + i * 17.6, v })),
    ticks: [20, 10, 0, -10, -20], fontSize: 19, absLabels: true,
    lines: [
      lineDs([[86, 0], [220, 0]], '#000', 3, -1), lineDs([[88, toY(912)], [88, toY(1101)]], '#000', 1.6, -1),
      lineDs([[104, toY(914)], [140, toY(914)]], '#000', 1.6, -1), lineDs([[138, toY(1084)], [160, toY(1084)]], '#000', 1.6, -1),
    ],
  });
}

function volcanoConfig() {
  return {
    type: 'scatter',
    data: {
      datasets: [
        { data: VOLCANO_SIG.map(([x, y]) => ({ x, y })), backgroundColor: '#FF0000', pointRadius: 3, borderWidth: 0, order: 0 },
        { data: VOLCANO_REST.map(([x, y]) => ({ x, y })), backgroundColor: '#000', pointRadius: 2.8, borderWidth: 0, order: 1 },
        ...VOLCANO_LEADERS.map(([a, b, c, d]) => lineDs([[a, b], [c, d]], '#8c8c8c', 1, 4)),
        lineDs([[-5.6, 1.3], [6.06, 1.3]], '#FF3300', 3, 2, [14, 9]),
        lineDs([[-.95, 0], [-.95, 4.04]], '#0033CC', 2.6, 3, [14, 6]),
        lineDs([[1.07, 0], [1.07, 4.04]], '#0033CC', 2.6, 3, [14, 6]),
        lineDs([[.1, 0], [.1, 4.04]], '#000', 2, 3),
      ],
    },
    options: {
      ...base(),
      scales: {
        x: { type: 'linear', min: -5.83, max: 6.06, grid: { color: '#e4e4e4', drawTicks: false, lineWidth: 1.5 }, border: { color: '#000', width: 3 },
          afterBuildTicks: (s) => { s.ticks = [-5, -3, -1, 1, 3, 5].map((value) => ({ value })); },
          afterFit: (s) => { s.height = 28; s.paddingLeft = 0; s.paddingRight = 0; },
          ticks: { color: '#222', padding: 5, autoSkip: false, maxRotation: 0, font: { family: NUNITO, size: 17 } } },
        y: { type: 'linear', min: 0, max: 4.04, grid: { color: '#e4e4e4', drawTicks: false, lineWidth: 1.5 }, border: { display: false },
          afterBuildTicks: (s) => { s.ticks = [0, .5, 1, 1.5, 2, 2.5, 3, 3.5, 4].map((value) => ({ value })); },
          afterFit: (s) => { s.width = 58; s.paddingTop = 0; s.paddingBottom = 0; },
          ticks: { color: '#222', padding: 4, autoSkip: false, font: { family: NUNITO, size: 17 }, callback: (v) => (Number.isInteger(v) ? v : '') } },
      },
    },
  };
}

const halfCache = {};
function halfCanvas(r, kind) {
  const key = kind + r;
  if (halfCache[key]) return halfCache[key];
  const c = document.createElement('canvas');
  const size = Math.ceil(2 * r + 4);
  c.width = size; c.height = size;
  const g = c.getContext('2d');
  g.translate(size / 2, size / 2);
  g.beginPath();
  if (kind === 't') g.arc(0, 0, r, Math.PI, 2 * Math.PI); else g.arc(0, 0, r, 0, Math.PI);
  g.closePath();
  g.fillStyle = kind === 't' ? '#C00000' : '#003399';
  g.fill();
  g.strokeStyle = '#111'; g.lineWidth = 1; g.stroke();
  halfCache[key] = c;
  return c;
}

function edgeDs(points) {
  const n = points.length;
  const [x0, y0] = points[n - 2], [x1, y1] = points[n - 1];
  const rot = (Math.atan2(x1 - x0, -(y1 - y0)) * 180) / Math.PI;
  return {
    type: 'line', data: points.map(([x, y]) => ({ x, y })), borderColor: '#000', borderWidth: 1.3, tension: 0.4, fill: false, order: 0,
    pointRadius: points.map((_, i) => (i === n - 1 ? 3.6 : 0)), pointStyle: 'triangle', pointRotation: points.map(() => rot),
    pointBackgroundColor: '#000', pointBorderWidth: 0,
  };
}

function networkConfig() {
  const all = [...NODES_HNPC, ...NODES_HNSC, ...NODES_HEPC, ...NODES_HBMSC, ...NODES_LEGEND];
  const pick = (k) => all.filter((n) => n[3] === k).map(([x, y, r]) => ({ x, y, r }));
  const fullDs = (k, bg, order) => ({ type: 'bubble', data: pick(k), backgroundColor: bg, borderColor: '#222', borderWidth: 1, order });
  const halfDs = (k, order) => ({ type: 'bubble', data: pick(k), order, borderWidth: 0, backgroundColor: 'transparent',
    pointStyle: (ctx) => (ctx.raw ? halfCanvas(ctx.raw.r, k) : 'circle') });
  const edges = [...EDGES_HNPC, ...EDGES_HNSC, ...EDGES_HEPC, ...EDGES_HBMSC].map(edgeDs);
  return {
    type: 'bubble',
    data: { datasets: [
      ...edges,
      lineDs([[1471, 1814], [1454, 1834]], '#777', 1, 1), lineDs([[1484, 1814], [1501, 1834]], '#777', 1, 1),
      halfDs('t', 2), halfDs('l', 3),
      fullDs('u', '#C00000', 4), fullDs('d', '#003399', 4), fullDs('n', '#fff', 4), fullDs('g', '#E2E2E2', 6),
    ] },
    options: {
      ...base(),
      scales: {
        x: { type: 'linear', display: false, min: 0, max: 1589, offset: false },
        y: { type: 'linear', display: false, min: 1130, max: 1920, reverse: true, offset: false },
      },
    },
  };
}

function dendroConfig() {
  return {
    type: 'scatter',
    data: { datasets: DENDRO.map((p) => lineDs(p, '#111', 2.2, 0)) },
    options: { ...base(), scales: {
      x: { type: 'linear', display: false, min: 150, max: 260 },
      y: { type: 'linear', display: false, min: 180, max: 350, reverse: true },
    } },
  };
}

function Cv({ left, top, width, height, make }) {
  const ref = useRef(null);
  useEffect(() => {
    const ch = new Chart(ref.current, make());
    return () => ch.destroy();
  }, []);
  return <canvas ref={ref} width={width} height={height} style={{ position: 'absolute', left, top, width, height, display: 'block' }} />;
}

function T({ x, y, s = 15, c = '#000', b = false, a = 'c', f = NUNITO, halo = false, children }) {
  const tr = { c: 'translate(-50%,-50%)', l: 'translate(0,-50%)', r: 'translate(-100%,-50%)' }[a];
  return <div style={{ position: 'absolute', left: x, top: y, transform: tr, fontFamily: f, fontSize: s, color: c, fontWeight: b ? 700 : 400, whiteSpace: 'nowrap', lineHeight: 1.1,
    textShadow: halo ? '0 0 2px #fff,0 0 2px #fff,0 0 3px #fff' : undefined }}>{children}</div>;
}
/* rotated -90deg: starts at (x,y) and runs upwards, or ends there when end is set */
function V({ x, y, s = 13.2, c = '#000', f = SANS, end = false, children }) {
  return <div style={{ position: 'absolute', left: x, top: y, transform: end ? 'translate(-100%,-50%) rotate(-90deg)' : 'translate(0,-50%) rotate(-90deg)', transformOrigin: end ? '100% 50%' : '0 50%', fontFamily: f, fontSize: s, color: c, whiteSpace: 'nowrap', lineHeight: 1 }}>{children}</div>;
}
const Rect = ({ x, y, w, h, bg = '#000', style = {} }) => <div style={{ position: 'absolute', left: x, top: y, width: w, height: h, background: bg, ...style }} />;

export default function App() {
  const heatXs = colPositions(108, HEAT_GROUP_STARTS);
  const goXs = colPositions(108, GO_GROUP_STARTS);
  const heatCx = (i) => 345 + (heatXs[i] + 0.5) * 9.15;
  const heatConfig = () => matrixConfig(HEAT_ROWS.map((r) => r.map(heatColor)), 9.15, 1175, heatXs, [[0, 108], ...HEAT_GROUP_STARTS], () => '#444', 'rgba(70,70,70,.45)');
  const goConfig = () => {
    const full = (absent) => goXs.map((_, i) => (absent.includes(i) ? '#fff' : '#BF9000'));
    const some = (present) => goXs.map((_, i) => (present.includes(i) ? '#FFD966' : '#fff'));
    return matrixConfig([full(GO_ABSENT_SYSTEM), full(GO_ABSENT_BIOREG), full(GO_ABSENT_STIMULUS), some(GO_NEUROGENESIS), some(GO_MIGRATION), some(GO_DIFFERENTIATION), some(GO_FATE), some(GO_AXONOGENESIS), some(GO_SYNAPSE), some(GO_PLASTICITY), some(GO_GLIOGENESIS), some(GO_INFLAMMATION)],
      9.21, 1175, goXs, [[0, 108], ...GO_GROUP_STARTS], (r) => (r <= 3 ? '#333' : '#666'), 'rgba(90,90,90,.4)');
  };
  const bConfig = () => {
    const xs = GENES_B.map((_, i) => i);
    const row = (p) => xs.map((i) => (p.includes(i) ? '#FFD966' : '#fff'));
    return matrixConfig([B_NERVOUS, B_POSITIVE, B_NEUROGENESIS, B_SYSTEM, B_MAPK].map(row), 9.7, 262, xs, [[0, 27]], () => '#333', 'rgba(70,70,70,.5)');
  };
  return (
    <div style={{ position: 'absolute', left: 0, top: 0, width: 1589, height: 1920, background: '#fff', overflow: 'hidden' }}>
      <Cv left={150} top={180} width={110} height={170} make={dendroConfig} />
      <Cv left={345} top={183} width={1175} height={164} make={heatConfig} />
      <Cv left={345} top={352} width={1175} height={253} make={goConfig} />
      <Cv left={0} top={640} width={1589} height={240} make={panelIiiConfig} />
      <Cv left={0} top={900} width={240} height={210} make={entireConfig} />
      <Cv left={200} top={900} width={230} height={210} make={over4Config} />
      <Cv left={490} top={873} width={353} height={242} make={volcanoConfig} />
      <Cv left={883} top={1003} width={262} height={104} make={bConfig} />
      <Cv left={0} top={1130} width={1589} height={790} make={networkConfig} />

      <T x={24} y={44} s={32} b>a</T>
      <T x={161} y={66} s={21} b>i)</T>
      <T x={251.5} y={115} s={15.7} b>Log<sub style={{ fontSize: 10.5 }}>2</sub> fold change</T>
      <Rect x={194} y={129} w={116} h={23} bg="linear-gradient(to right,#0000CC 0%,#0000CC 18%,#fff 50%,#E00000 85%,#E00000 100%)" style={{ border: '1.5px solid #000', boxSizing: 'border-box' }} />
      {[0, 1, 2, 3, 4, 5, 6, 7, 8].map((i) => <Rect key={i} x={201 + i * 12.9} y={152} w={1} h={9} bg="#999" />)}
      <T x={208} y={169} s={15}>-3&lt;</T><T x={252.5} y={169} s={15}>0</T><T x={294.5} y={169} s={15}>&lt;3</T>

      {GENES_MAIN.map((g, i) => (i % 2 === 0
        ? <V key={g} x={heatCx(i)} y={178}>{g}</V>
        : <React.Fragment key={g}><V x={heatCx(i)} y={90}>{g}</V><Rect x={heatCx(i)} y={95} w={1} h={88} bg="#333" /></React.Fragment>))}
      {GENES_EXTRA.map(([g, c, up], i) => (up
        ? <React.Fragment key={g}><V x={heatCx(108 + i)} y={90} c={EXTRA_COLORS[c]}>{g}</V><Rect x={heatCx(108 + i)} y={95} w={1} h={88} bg="#555" /></React.Fragment>
        : <V key={g} x={heatCx(108 + i)} y={178} c={EXTRA_COLORS[c]}>{g}</V>))}
      {CELL_TYPES.map((c, i) => <T key={c} x={343} y={194.5 + i * 23.4} s={17.5} a="r">{c}</T>)}

      <T x={13} y={342} s={21} b>ii)</T>
      <T x={37} y={347} s={15} b a="l">GO term ID #</T>
      {GO_IDS.map((g, i) => <T key={g} x={37} y={367 + i * 21} s={15} a="l">{g}</T>)}
      {GO_TERMS.map((g, i) => <T key={g} x={132.5} y={367 + i * 21} s={15.4} a="l">{g}</T>)}
      {GO_COUNTS.map((g, i) => <T key={i} x={1557} y={366 + i * 21} s={16}>{g}</T>)}
      <V x={1528} y={480} s={14} end={false}><span style={{ display: 'inline-block', transform: 'translateX(-50%)' }}>measured gene count</span></V>

      <T x={16} y={626} s={21} b>iii)</T>
      {PANEL_TITLES.map(([lines, x], i) => lines.map((l, k) => <T key={i + '-' + k} x={x} y={633 + k * 23} s={18} b>{l}</T>))}
      <V x={28} y={755} s={17.5}><span style={{ display: 'inline-block', transform: 'translateX(-50%)' }}>Gene count (%)</span></V>
      {[['hNPC', 97], ['hNSC', 117], ['hEPC', 133.7], ['hBMSC', 153], ['hAMSC', 171], ['hHSC', 190], ['reper-', 203], ['fusion', 217]].map(([l, x]) => <V key={l} x={x} y={820} s={13.5} end>{l}</V>)}

      <T x={17} y={881} s={21} b>iv)</T>
      <T x={146} y={882} s={17.8} b>Entire gene population</T>
      <T x={346} y={872} s={17.5} b>Genes w/ over 4-fold</T>
      <T x={346} y={894} s={17.5} b>expression changes</T>
      <V x={42} y={990} s={17.5}><span style={{ display: 'inline-block', transform: 'translateX(-50%)' }}>Gene count</span></V>
      <V x={243} y={1000} s={17.5}><span style={{ display: 'inline-block', transform: 'translateX(-50%)' }}>Gene count</span></V>
      <T x={323} y={909} s={16}>*</T><T x={350} y={1092} s={16}>*</T>

      <T x={489} y={883} s={34} b>b</T><T x={512} y={885} s={21} b>i)</T><T x={863} y={892} s={21} b>ii)</T>
      {VOLCANO_LABELS.map(([l, x, y]) => <T key={l} x={x} y={y} s={l === 'Cdk5rap2' ? 13 : 15.2}>{l}</T>)}
      <V x={509} y={973} s={18}><span style={{ display: 'inline-block', transform: 'translateX(-50%)' }}>-Log(p-value)</span></V>
      <T x={683} y={1119} s={17.5}>Log<sub style={{ fontSize: 11 }}>2</sub>(w NDC /wo NDC)</T>

      {GENES_B.map((g, i) => {
        const cx = 883 + (i + 0.5) * 9.7;
        return i % 2 === 0
          ? <V key={g} x={cx} y={998} s={13}>{g}</V>
          : <React.Fragment key={g}><V x={cx} y={940} s={13}>{g}</V><Rect x={cx} y={943} w={1} h={60} bg="#333" /></React.Fragment>;
      })}
      <T x={1152} y={991} s={15} b a="l">GO term ID #</T>
      <T x={1578} y={989} s={15.8} b a="r">False discovery rate (fdr)</T>
      {B_ROWS.map(([id, term, v, e], i) => (
        <React.Fragment key={id}>
          <T x={1154.5} y={1011 + i * 22.2} s={15} a="l">{id}</T>
          <T x={1245} y={1011 + i * 22.2} s={15.6} a="l">{term}</T>
          <T x={1512} y={1011 + i * 22.2} s={15} a="l">{v}<sup style={{ fontSize: 9.5, lineHeight: 0 }}>{e}</sup></T>
        </React.Fragment>
      ))}

      <Rect x={1297.5} y={838} w={236.5} h={110} bg="#fff" style={{ border: '1px solid #a5a5a5', boxSizing: 'border-box' }} />
      <T x={1309} y={849} s={18} c="#C00000" a="l">upregulated</T>
      <T x={1408} y={849} s={18} c="#2E75B6" a="l">downregulated</T>
      {SERIES_NAMES.map((n, i) => {
        const right = i >= 4, row = i % 4, y = 872.7 + row * 20.7;
        return (
          <React.Fragment key={n}>
            <Rect x={right ? 1425 : 1316} y={y - 7.5} w={15} h={15} bg={SERIES_COLORS[i]} style={{ border: '1.5px solid #222', boxSizing: 'border-box' }} />
            <T x={right ? 1448 : 1339} y={y} s={15} a="l">{n}</T>
          </React.Fragment>
        );
      })}

      <T x={14} y={1163} s={34} b>c</T>
      <T x={51} y={1163} s={21} b a="l">i) hNPC</T>
      <T x={38} y={1376} s={21.5} b a="l">ii) hNSC</T>
      <T x={39} y={1581} s={21.5} b a="l">iii) hEPC</T>
      <T x={38} y={1802} s={21.5} b a="l">iv) hBMSC</T>
      {[...LABELS_HNPC, ...LABELS_HNSC, ...LABELS_HEPC, ...LABELS_HBMSC].map(([l, x, y, c], i) => <T key={i} x={x} y={y} s={17.6} c={c} halo>{l}</T>)}
      <T x={746} y={1165} s={19} b>hNPC</T>
      <T x={752.6} y={1377} s={19} b>hNSC</T>
      <T x={752.6} y={1591} s={19} b>hEPC</T>
      <T x={764} y={1801} s={19} b>hBMSC</T>

      <Rect x={1282} y={1773} w={289} h={110} bg="transparent" style={{ border: '1px solid #aaa', boxSizing: 'border-box' }} />
      <T x={1424} y={1787} s={17}><b>False discovery rate</b> (fdr)</T>
      <T x={1318} y={1812} s={17.5} a="l">upregulated</T>
      <T x={1318} y={1839} s={17.5} a="l">downregulated</T>
      <T x={1318} y={1864} s={17.5} a="l">not significant</T>
      <T x={1494} y={1809} s={17} a="l">fdr=0.05</T>
      <T x={1498} y={1848} s={17} a="l">fdr =10<sup style={{ fontSize: 11, lineHeight: 0 }}>-7</sup></T>
    </div>
  );
}
